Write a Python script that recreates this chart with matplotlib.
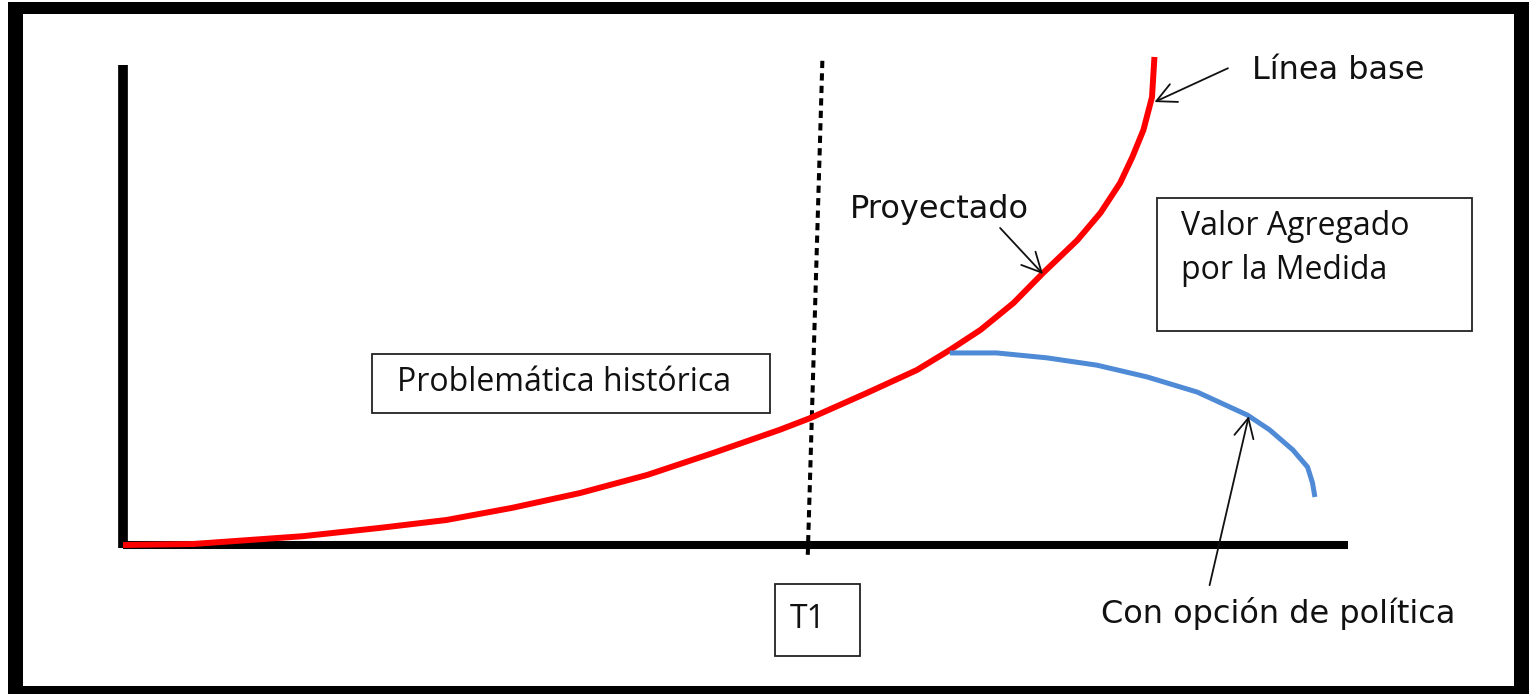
import matplotlib
matplotlib.use('Agg')
import matplotlib.pyplot as plt
from matplotlib.patches import Rectangle

# curve data (x = time, y = level)
base_x = [0, 5.7, 14.7, 21.0, 26.4, 31.8, 37.3, 42.8, 48.2, 53.6, 56.1, 60.7, 64.8, 67.5,
          70.0, 72.7, 75.1, 77.9, 79.8, 81.4, 82.4, 83.3, 84.0, 84.2]
base_y = [0, 0.2, 1.8, 3.5, 5.1, 7.6, 10.6, 14.3, 18.8, 23.5, 25.9, 31.0, 35.7, 39.8,
          43.9, 49.4, 55.5, 62.2, 67.8, 73.9, 79.2, 84.7, 91.4, 99.6]

policy_x = [67.5, 71.3, 75.4, 79.5, 83.6, 87.7, 91.8, 93.6, 95.5, 96.7, 97.1, 97.3]
policy_y = [39.2, 39.2, 38.2, 36.7, 34.3, 31.2, 26.5, 23.5, 19.4, 15.9, 12.7, 9.8]

t1_x = [55.9, 57.1]
t1_y = [-2, 99.6]

W, H = 1529, 694
fig = plt.figure(figsize=(W / 100, H / 100), dpi=100)
fig.patch.set_facecolor('white')

# axes area in pixel terms: x 123..1348, y 545..55
ax = fig.add_axes([123 / W, (H - 545) / H, (1348 - 123) / W, (545 - 55) / H])
ax.set_xlim(0, 100)
ax.set_ylim(0, 100)
ax.axis('off')

# hand drawn axes
ax.plot([0, 0], [-0.6, 98], color='black', lw=7, solid_capstyle='butt', clip_on=False)
ax.plot([0, 100], [0, 0], color='black', lw=5.8, solid_capstyle='butt', clip_on=False)

ax.plot(t1_x, t1_y, color='black', lw=2.9, dashes=(1.8, 1.3), clip_on=False)
ax.plot(base_x, base_y, color='#ff0000', lw=4.3, clip_on=False, solid_capstyle='butt',
        solid_joinstyle='round')
ax.plot(policy_x, policy_y, color='#4f8ad6', lw=3.6, clip_on=False, solid_capstyle='butt',
        solid_joinstyle='round')

# boxes
box_kw = dict(fill=False, edgecolor='#222222', lw=1.3, clip_on=False)
ax.add_patch(Rectangle((20.3, 26.9), 32.5, 12.1, **box_kw))
ax.add_patch(Rectangle((53.2, -22.7), 7.0, 14.7, **box_kw))
ax.add_patch(Rectangle((84.4, 43.7), 25.7, 27.1, **box_kw))

calibri = ['Open Sans', 'DejaVu Sans']
arial = ['DejaVu Sans']
ink = '#111111'

ax.text(22.4, 33.1, 'Problemática histórica', fontsize=23, family=calibri,
        va='center', ha='left', color=ink)
ax.text(54.4, -15.3, 'T1', fontsize=23, family=calibri, va='center', ha='left', color=ink)
ax.text(86.4, 65.1, 'Valor Agregado', fontsize=23, family=calibri, va='center', ha='left', color=ink)
ax.text(86.4, 56.1, 'por la Medida', fontsize=23, family=calibri, va='center', ha='left', color=ink)

arrow = dict(arrowstyle='->,head_length=0.7,head_width=0.35', color=ink, lw=1.3,
             shrinkA=0, shrinkB=0, mutation_scale=20)
ax.text(59.3, 68.4, 'Proyectado', fontsize=23, family=arial, va='center', ha='left', color=ink)
ax.annotate('', xy=(75.1, 55.3), xytext=(71.6, 64.7), arrowprops=arrow, annotation_clip=False)
ax.text(92.2, 96.9, 'Línea base', fontsize=23, family=arial, va='center', ha='left', color=ink)
ax.annotate('', xy=(84.2, 90.4), xytext=(90.2, 97.3), arrowprops=arrow, annotation_clip=False)
ax.text(79.8, -13.9, 'Con opción de política', fontsize=23, family=arial, va='center', ha='left',
        color=ink)
ax.annotate('', xy=(91.9, 26.3), xytext=(88.7, -8.2), arrowprops=arrow, annotation_clip=False)


# thick outer frame
def frame_bar(x0, y0, x1, y1):
    fig.add_artist(Rectangle((x0 / W, 1 - y1 / H), (x1 - x0) / W, (y1 - y0) / H,
                             transform=fig.transFigure, color='black', lw=0))


frame_bar(8, 2, 1529, 14)
frame_bar(8, 2, 23, 694)
frame_bar(1514, 2, 1529, 694)
frame_bar(8, 686, 1529, 694)

fig.savefig('out.png', dpi=100)
